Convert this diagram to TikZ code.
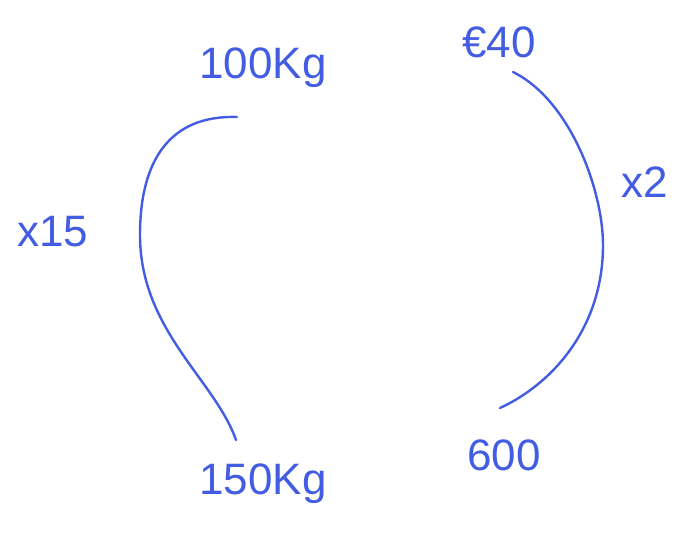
\documentclass[tikz,border=0pt]{standalone}
\usepackage{fontspec}
\setmainfont{Liberation Sans}
\definecolor{inkblue}{RGB}{66,92,226}
\begin{document}
\begin{tikzpicture}[
  x=1pt,y=-1pt,
  lbl/.style={text=inkblue,font=\fontsize{44}{48}\selectfont,inner sep=1pt},
  stroke/.style={draw=inkblue,line width=2.4pt,line cap=round}]
\useasboundingbox (0,0) rectangle (680,534);
% left loop
\node[lbl] (kgtop) at (263,68) {100Kg};
\node[lbl] (kgbot) at (263,484) {150Kg};
\node[lbl] (fac15) at (53,232) {x15};
\coordinate (ltop) at (237,117);
\coordinate (lbot) at (236,440);
% right loop
\node[lbl] (eur) at (499,42) {€40};
\node[lbl] (six) at (504,455) {600};
\node[lbl] (fac2) at (645,182) {x2};
\coordinate (rtop) at (513,72);
\coordinate (rbot) at (500,408);
\draw[stroke] (ltop) .. controls (170,115) and (140,160) .. (140,235)
  .. controls (140,330) and (215,380) .. (lbot);
\draw[stroke] (rtop) .. controls (570,100) and (603,190) .. (603,245)
  .. controls (603,330) and (550,385) .. (rbot);
\end{tikzpicture}
\end{document}
